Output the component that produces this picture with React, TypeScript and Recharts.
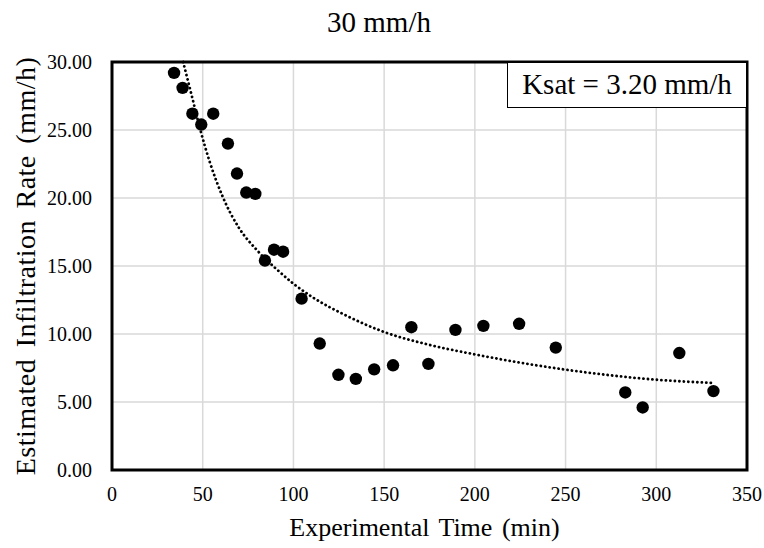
import { ComposedChart, Scatter, Line, XAxis, YAxis, CartesianGrid, ReferenceArea, Label } from "recharts";

const FONT = "'Liberation Serif', 'Times New Roman', serif";

// measured infiltration rate points (min, mm/h)
const timeMin = [34.2, 38.9, 44.3, 49.2, 55.8, 63.9, 68.9, 74.0, 79.0, 84.3, 89.3, 94.3, 104.5, 114.5, 124.8, 134.4, 144.5, 154.9, 165.0, 174.4, 189.3, 204.7, 224.4, 244.6, 282.9, 292.5, 312.7, 331.5];
const rateMmH = [29.2, 28.1, 26.2, 25.4, 26.2, 24.0, 21.8, 20.4, 20.3, 15.4, 16.2, 16.05, 12.6, 9.3, 7.0, 6.7, 7.4, 7.7, 10.5, 7.8, 10.3, 10.6, 10.75, 9.0, 5.7, 4.6, 8.6, 5.8];

// dotted trend curve (clipped at the 30 top)
const trendTime = [39.2, 44, 48.5, 54, 61, 70, 80, 90, 100, 110, 130, 150, 175, 200, 250, 300, 330.6];
const trendRate = [30.0, 27.5, 25.1, 22.6, 20.1, 17.8, 16.15, 14.85, 13.7, 12.75, 11.3, 10.15, 9.2, 8.5, 7.38, 6.64, 6.4];

const xTicks = [0, 50, 100, 150, 200, 250, 300, 350];
const yTicks = [0, 5, 10, 15, 20, 25, 30];

const points = timeMin.map((x, i) => ({ x, y: rateMmH[i] }));
const trend = trendTime.map((x, i) => ({ x, y: trendRate[i] }));

export default function App() {
  return (
    <div style={{ position: "relative", width: 764, height: 548, fontFamily: FONT, background: "#fff" }}>
      <style>{`body{margin:0;overflow:hidden}`}</style>
      <div
        style={{
          position: "absolute",
          left: 0,
          top: 8,
          width: 764,
          textAlign: "center",
          fontSize: 29,
          lineHeight: "29px",
          color: "#000",
        }}
      >
        <span style={{ position: "relative", left: -3 }}>30 mm/h</span>
      </div>
      <ComposedChart width={764} height={548} margin={{ top: 62, right: 17, bottom: 0, left: 0 }}>
        <CartesianGrid stroke="#d9d9d9" strokeWidth={1.5} />
        <XAxis
          type="number"
          dataKey="x"
          domain={[0, 350]}
          ticks={xTicks}
          height={78}
          axisLine={false}
          tickLine={false}
          tickSize={8}
          tickMargin={9}
          tick={{ fill: "#000", fontSize: 20, fontFamily: FONT }}
        >
          <Label
            value="Experimental Time (min)"
            position="insideBottom"
            offset={12}
            dx={-5}
            style={{ fill: "#000", fontSize: 26, fontFamily: FONT, wordSpacing: 3 }}
          />
        </XAxis>
        <YAxis
          type="number"
          domain={[0, 30]}
          ticks={yTicks}
          width={112}
          axisLine={false}
          tickLine={false}
          tickSize={8}
          tickMargin={12}
          tickFormatter={(v: number) => v.toFixed(2)}
          tick={{ fill: "#000", fontSize: 20, fontFamily: FONT }}
        >
          <Label
            value="Estimated Infiltration Rate (mm/h)"
            angle={-90}
            position="insideLeft"
            offset={25}
            style={{ fill: "#000", fontSize: 28, fontFamily: FONT, textAnchor: "middle", letterSpacing: 0.5, wordSpacing: 4 }}
          />
        </YAxis>
        <Line
          data={trend}
          dataKey="y"
          type="monotone"
          stroke="#000"
          strokeWidth={2.8}
          strokeDasharray="0.1 4.4"
          strokeLinecap="round"
          dot={false}
          activeDot={false}
          isAnimationActive={false}
        />
        <Scatter
          data={points}
          dataKey="y"
          fill="#000"
          isAnimationActive={false}
          shape={(p: any) => <circle cx={p.cx} cy={p.cy} r={6.2} fill="#000" />}
        />
        <ReferenceArea x1={0} x2={350} y1={0} y2={30} fill="none" stroke="#000" strokeWidth={3} ifOverflow="visible" />
      </ComposedChart>
      <div
        style={{
          position: "absolute",
          left: 507,
          top: 62,
          width: 240,
          height: 46,
          boxSizing: "border-box",
          border: "1.5px solid #000",
          background: "#fff",
          fontSize: 29,
          lineHeight: "43px",
          textAlign: "center",
          color: "#000",
        }}
      >
        Ksat = 3.20 mm/h
      </div>
    </div>
  );
}
